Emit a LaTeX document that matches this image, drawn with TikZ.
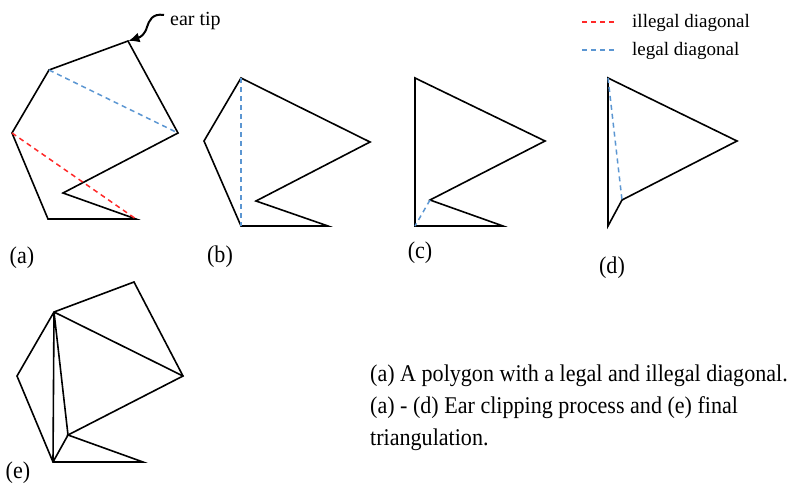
\documentclass[tikz,border=0pt]{standalone}
\usepackage{fontspec}
\setmainfont{Liberation Serif}
\newfontfamily\capfont[FakeStretch=0.92]{Liberation Serif}
\usetikzlibrary{arrows.meta}
\definecolor{illred}{RGB}{255,40,40}
\definecolor{legblue}{RGB}{91,150,210}
\begin{document}
\begin{tikzpicture}[x=1pt,y=-1pt,
  edge/.style={line width=1.6pt, line join=miter},
  ill/.style={illred, line width=1.5pt, dash pattern=on 5pt off 4pt},
  leg/.style={legblue, line width=1.5pt, dash pattern=on 5pt off 4pt},
  lab/.style={font=\capfont\fontsize{24}{24}\selectfont, inner sep=0pt},
  captext/.style={font=\capfont\fontsize{24}{24}\selectfont, inner sep=0pt, anchor=base west},
  small/.style={font=\fontsize{19}{19}\selectfont, inner sep=0pt, anchor=base west}]
\useasboundingbox (0,0) rectangle (792,485);
% (a)
\coordinate (a1) at (128,41); \coordinate (a2) at (178,133); \coordinate (a3) at (63,193);
\coordinate (a4) at (136,219); \coordinate (a5) at (48,219); \coordinate (a6) at (12,133);
\coordinate (a7) at (49,70);
\draw[edge] (a1)--(a2)--(a3)--(a4)--(a5)--(a6)--(a7)--cycle;
\draw[leg] (a7)--(a2);
\draw[ill] (a6)--(a4);
\node[small, font=\fontsize{20}{20}\selectfont] (ear) at (170,25) {ear tip};
\coordinate (earstart) at (164,15);
\draw[line width=2pt, -{Latex[length=11pt,width=10pt]}, shorten >=0.5pt] (earstart) .. controls (152,13) and (149,21) .. (147,27) .. controls (145,34) and (141,37) .. (a1);
\node[lab] (la) at (22,258) {(a)};
% (b)
\coordinate (b1) at (241,78); \coordinate (b2) at (370,142); \coordinate (b3) at (256,201);
\coordinate (b4) at (328,226); \coordinate (b5) at (241,226); \coordinate (b6) at (204,141);
\draw[edge] (b1)--(b2)--(b3)--(b4)--(b5)--(b6)--cycle;
\draw[leg] (b1)--(b5);
\node[lab] (lb) at (220,257) {(b)};
% (c)
\coordinate (c1) at (415,78); \coordinate (c2) at (545,141); \coordinate (c3) at (430,200);
\coordinate (c4) at (503,226); \coordinate (c5) at (415,226);
\draw[edge] (c1)--(c2)--(c3)--(c4)--(c5)--cycle;
\draw[leg] (c3)--(c5);
\node[lab] (lc) at (420,253) {(c)};
% (d)
\coordinate (d1) at (608,78); \coordinate (d2) at (737,141); \coordinate (d3) at (622,200);
\coordinate (d4) at (608,226);
\draw[edge] (d1)--(d2)--(d3)--(d4)--cycle;
\draw[leg] (d1)--(d3);
\node[lab] (ld) at (612,268) {(d)};
% (e)
\coordinate (e1) at (134,282); \coordinate (e2) at (183,376); \coordinate (e3) at (68,435);
\coordinate (e4) at (143,462); \coordinate (e5) at (53,462); \coordinate (e6) at (17,376);
\coordinate (e7) at (54,312);
\draw[edge] (e1)--(e2)--(e3)--(e4)--(e5)--(e6)--(e7)--cycle;
\draw[edge] (e7)--(e2) (e7)--(e3) (e7)--(e5) (e5)--(e3);
\node[lab] (le) at (18,473) {(e)};
% legend
\coordinate (r1) at (582,22); \coordinate (r2) at (616,22);
\coordinate (s1) at (582,50); \coordinate (s2) at (616,50);
\draw[ill] (r1)--(r2);
\draw[leg] (s1)--(s2);
\node[small] (tr) at (632,27) {illegal diagonal};
\node[small] (ts) at (632,55) {legal diagonal};
% caption
\node[captext] (c1t) at (370,381) {(a) A polygon with a legal and illegal diagonal.};
\node[captext] (c2t) at (370,413) {(a) - (d) Ear clipping process and (e) final};
\node[captext] (c3t) at (370,445) {triangulation.};
\end{tikzpicture}
\end{document}
